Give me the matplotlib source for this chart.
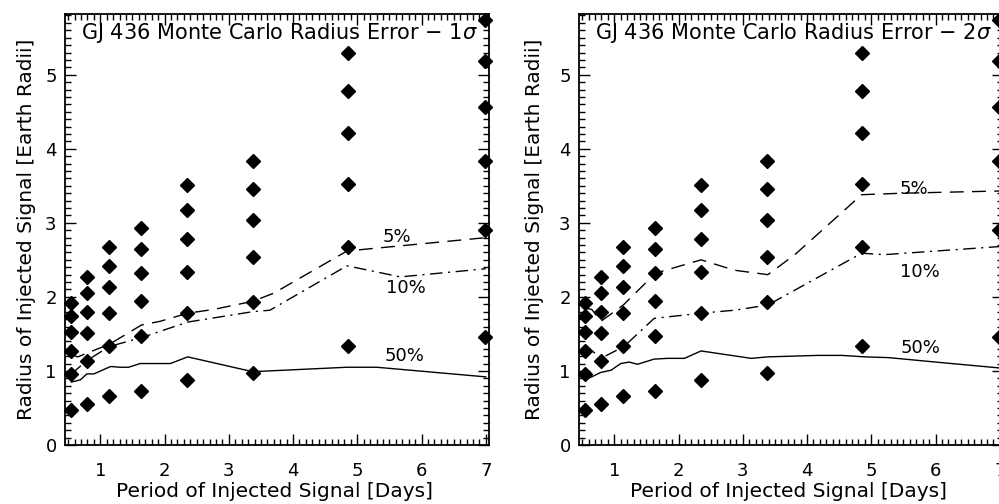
import matplotlib
matplotlib.use("Agg")
import matplotlib.pyplot as plt
from matplotlib.ticker import MultipleLocator

plt.rcParams['font.family'] = ['DejaVu Sans']

# injected periods (days) and radii (Earth radii) of the test grid
periods = [0.55, 0.79, 1.14, 1.64, 2.35, 3.37, 4.85, 6.98]
radii = [
    [1.92, 1.74, 1.52, 1.27, 0.96, 0.47],
    [2.27, 2.05, 1.79, 1.51, 1.14, 0.56],
    [2.68, 2.42, 2.13, 1.78, 1.34, 0.66],
    [2.93, 2.64, 2.32, 1.95, 1.47, 0.73],
    [3.51, 3.17, 2.78, 2.33, 1.78, 0.88],
    [3.83, 3.46, 3.04, 2.54, 1.93, 0.97],
    [5.29, 4.78, 4.21, 3.53, 2.68, 1.34],
    [5.74, 5.19, 4.56, 3.83, 2.91, 1.46],
]

# 1 sigma contours
p50_1s_x = [0.55, 0.69, 0.79, 0.90, 1.03, 1.16, 1.31, 1.44, 1.62, 1.83, 2.09, 2.36, 3.37, 4.84, 5.30, 7.0]
p50_1s_y = [0.85, 0.88, 0.96, 0.96, 1.01, 1.06, 1.05, 1.05, 1.10, 1.10, 1.10, 1.19, 0.99, 1.05, 1.05, 0.92]
p5_1s_x = [0.55, 0.65, 0.79, 1.14, 1.64, 1.93, 2.36, 2.76, 3.37, 3.70, 4.84, 7.0]
p5_1s_y = [1.22, 1.19, 1.24, 1.36, 1.62, 1.67, 1.78, 1.83, 1.94, 2.05, 2.62, 2.80]
p10_1s_x = [0.55, 0.79, 1.14, 1.64, 2.36, 3.37, 3.64, 4.84, 5.67, 7.0]
p10_1s_y = [0.96, 1.14, 1.33, 1.45, 1.66, 1.80, 1.82, 2.42, 2.27, 2.38]

# 2 sigma contours
p50_2s_x = [0.55, 0.79, 0.95, 1.10, 1.23, 1.36, 1.62, 1.83, 2.09, 2.35, 3.13, 3.39, 4.17, 4.54, 4.90, 5.27, 6.0, 7.0]
p50_2s_y = [0.88, 0.98, 1.01, 1.10, 1.12, 1.09, 1.16, 1.17, 1.17, 1.27, 1.17, 1.19, 1.21, 1.21, 1.19, 1.18, 1.12, 1.04]
p5_2s_x = [0.55, 0.65, 0.79, 1.14, 1.64, 2.35, 2.87, 3.39, 3.81, 4.85, 5.48, 7.0]
p5_2s_y = [1.85, 1.83, 1.67, 1.89, 2.32, 2.50, 2.36, 2.30, 2.57, 3.38, 3.40, 3.43]
p10_2s_x = [0.55, 0.79, 1.15, 1.62, 2.35, 2.87, 3.39, 4.85, 5.2, 7.0]
p10_2s_y = [1.35, 1.17, 1.33, 1.71, 1.78, 1.82, 1.89, 2.59, 2.57, 2.68]

fs = 13

fig = plt.figure(figsize=(9.99, 5.04), dpi=100)
ax1 = fig.add_axes([65 / 999, 59 / 504, 424 / 999, 431 / 504])
ax2 = fig.add_axes([579 / 999, 59 / 504, 424 / 999, 431 / 504])

panels = [
    (ax1, r"GJ 436 Monte Carlo Radius Error $-$ 1$\sigma$",
     (p5_1s_x, p5_1s_y), (p10_1s_x, p10_1s_y), (p50_1s_x, p50_1s_y),
     [(5.62, 2.81), (5.76, 2.12), (5.73, 1.20)], -0.068),
    (ax2, r"GJ 436 Monte Carlo Radius Error $-$ 2$\sigma$",
     (p5_2s_x, p5_2s_y), (p10_2s_x, p10_2s_y), (p50_2s_x, p50_2s_y),
     [(5.66, 3.46), (5.76, 2.34), (5.76, 1.31)], -0.082),
]

for ax, title, c5, c10, c50, lab_pos, ylab_x in panels:
    for p, col in zip(periods, radii):
        ax.plot([p] * len(col), col, 'D', color='black', ms=7, mec='black',
                clip_on=False, zorder=3)
    ax.plot(c5[0], c5[1], color='black', lw=1, dashes=(10, 6))
    ax.plot(c10[0], c10[1], color='black', lw=1, dashes=(9, 4, 1.5, 4))
    ax.plot(c50[0], c50[1], color='black', lw=1)
    for txt, (tx, ty) in zip(["5%", "10%", "50%"], lab_pos):
        ax.text(tx, ty, txt, fontsize=fs, ha='center', va='center')

    ax.text(0.70, 5.57, title, fontsize=15, ha='left', va='center')

    ax.set_xlim(0.45, 7.05)
    ax.set_ylim(0, 5.82)
    ax.xaxis.set_major_locator(MultipleLocator(1))
    ax.xaxis.set_minor_locator(MultipleLocator(0.1))
    ax.yaxis.set_major_locator(MultipleLocator(1))
    ax.yaxis.set_minor_locator(MultipleLocator(0.1))
    ax.tick_params(which='both', direction='in', top=True, right=True,
                   labelsize=fs, width=1)
    ax.tick_params(which='major', length=8)
    ax.tick_params(which='minor', length=4)
    ax.tick_params(axis='x', which='major', pad=12)
    ax.tick_params(axis='y', which='major', pad=6)
    for s in ax.spines.values():
        s.set_linewidth(1.3)

    ax.set_xlabel("Period of Injected Signal [Days]", fontsize=14.5)
    ax.set_ylabel("Radius of Injected Signal [Earth Radii]", fontsize=14.5)
    ax.xaxis.set_label_coords(0.493, -0.085)
    ax.yaxis.set_label_coords(ylab_x, 0.5)

fig.savefig("out.png", dpi=100)
